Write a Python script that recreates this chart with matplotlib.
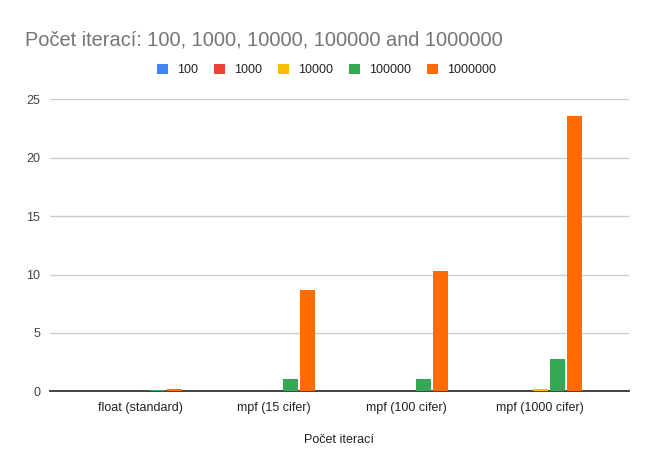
import matplotlib
matplotlib.use("Agg")
import matplotlib.pyplot as plt
import numpy as np

plt.rcParams['font.family'] = ['Liberation Sans', 'DejaVu Sans']

categories = ['float (standard)', 'mpf (15 cifer)', 'mpf (100 cifer)', 'mpf (1000 cifer)']
series_names = ['100', '1000', '10000', '100000', '1000000']
colors = ['#4285F4', '#EA4335', '#FBBC04', '#34A853', '#FF6D01']

# one list per iteration count, values per category
v100 = [0.0, 0.001, 0.001, 0.003]
v1000 = [0.001, 0.004, 0.006, 0.03]
v10000 = [0.008, 0.05, 0.05, 0.22]
v100000 = [0.08, 1.05, 1.05, 2.78]
v1000000 = [0.18, 8.67, 10.3, 23.57]
values = [v100, v1000, v10000, v100000, v1000000]

fig = plt.figure(figsize=(6.53, 4.68), dpi=100)
ax = fig.add_axes([50/653, 1 - 391.3/468, (629-50)/653, (391.3-99.3)/468])

x = np.arange(len(categories))
width = 0.1125
step = 0.1275
for i, (name, vals) in enumerate(zip(series_names, values)):
    ax.bar(x + (i - 2) * step, vals, width, color=colors[i], label=name, zorder=3)

ax.set_xlim(-0.675, 3.667)
ax.set_ylim(0, 25)
ax.set_yticks([0, 5, 10, 15, 20, 25])
ax.grid(axis='y', color='#cccccc', linewidth=1, zorder=0)
for s in ['top', 'right', 'left']:
    ax.spines[s].set_visible(False)
ax.spines['bottom'].set_color('#333333')
ax.spines['bottom'].set_linewidth(1.3)
ax.spines['bottom'].set_zorder(2)
ax.tick_params(axis='y', length=0, pad=7, labelsize=9, labelcolor='#444444')
ax.tick_params(axis='x', length=0, pad=8, labelsize=9, labelcolor='#222222')
ax.set_xticks(x)
ax.set_xticklabels(categories)
ax.set_xlabel('Počet iterací', fontsize=9, color='#222222', labelpad=14)

fig.text(25/653, 1 - 46/468, 'Počet iterací: 100, 1000, 10000, 100000 and 1000000',
         fontsize=14.4, color='#757575', va='baseline', ha='left')

ax.legend(loc='center', bbox_to_anchor=((326.5 - 50)/579, (391.3 - 70)/292), ncol=5, frameon=False,
          fontsize=9, handlelength=0.88, handleheight=0.88, handletextpad=0.72, columnspacing=1.28,
          borderaxespad=0, borderpad=0, labelcolor='#222222')

fig.savefig('out.png', dpi=100)
